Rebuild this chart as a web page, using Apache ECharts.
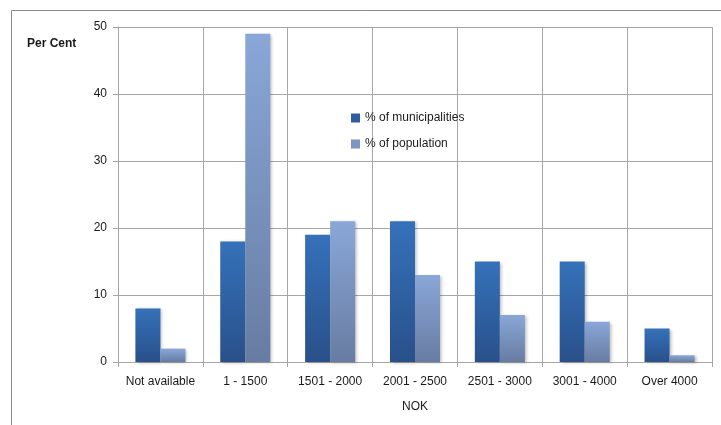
<!DOCTYPE html>
<html>
<head>
<meta charset="utf-8">
<script src="https://cdn.jsdelivr.net/npm/echarts@6/dist/echarts.min.js"></script>
<style>
  html, body { margin: 0; padding: 0; background: #fff; }
  #chart { width: 721px; height: 425px; }
</style>
</head>
<body>
<div id="chart"></div>
<script>
// Income bands (NOK) and shares in each band
const categories = ['Not available', '1 - 1500', '1501 - 2000', '2001 - 2500', '2501 - 3000', '3001 - 4000', 'Over 4000'];
const municipalities = [8, 18, 19, 21, 15, 15, 5];
const population = [2, 49, 21, 13, 7, 6, 1];
const yTicks = { min: 0, max: 50, interval: 10 };

const FONT = '"Liberation Sans Narrow", "Liberation Sans", Arial, sans-serif';
const grid = '#a6a6a6';
const ink = '#1a1a1a';

function grad(top, bottom) {
  return new echarts.graphic.LinearGradient(0, 0, 0, 1, [
    { offset: 0, color: top },
    { offset: 1, color: bottom }
  ]);
}

const chart = echarts.init(document.getElementById('chart'), null, { renderer: 'canvas' });
chart.setOption({
  animation: false,
  backgroundColor: '#fff',
  graphic: [
    {
      type: 'rect',
      shape: { x: 11.5, y: 10.5, width: 730, height: 430 },
      style: { fill: 'none', stroke: '#8c8c8c', lineWidth: 1 },
      silent: true
    },
    {
      type: 'text',
      left: 27, top: 38,
      style: { text: 'Per Cent', font: 'bold 12px ' + FONT, fill: ink }
    }
  ],
  grid: { left: 118, right: 9, top: 27, bottom: 63, containLabel: false },
  legend: {
    orient: 'vertical',
    left: 351, top: 112,
    padding: 0,
    itemWidth: 9, itemHeight: 9, itemGap: 14,
    icon: 'rect',
    textStyle: { fontFamily: FONT, fontSize: 12, color: ink },
    data: [
      { name: '% of municipalities', itemStyle: { color: '#2f5e9e' } },
      { name: '% of population', itemStyle: { color: '#7b95c4' } }
    ]
  },
  xAxis: {
    type: 'category',
    data: categories,
    name: 'NOK',
    nameLocation: 'middle',
    nameGap: 39,
    nameTextStyle: { fontFamily: FONT, fontSize: 12, color: ink },
    axisLine: { lineStyle: { color: grid, width: 1 } },
    axisTick: { show: true, interval: 0, length: 5, lineStyle: { color: grid } },
    axisLabel: { interval: 0, fontFamily: FONT, fontSize: 12, color: ink, margin: 14 },
    splitLine: { show: true, interval: 0, lineStyle: { color: grid, width: 1 } }
  },
  yAxis: {
    type: 'value',
    min: yTicks.min, max: yTicks.max, interval: yTicks.interval,
    axisLine: { show: true, lineStyle: { color: grid } },
    axisTick: { show: true, length: 5, lineStyle: { color: grid } },
    axisLabel: { fontFamily: FONT, fontSize: 12, color: ink, margin: 11 },
    splitLine: { show: true, lineStyle: { color: grid, width: 1 } }
  },
  series: [
    {
      name: '% of municipalities',
      type: 'bar',
      data: municipalities,
      barGap: '0%',
      barCategoryGap: '41%',
      itemStyle: {
        color: grad('#3571ba', '#29508a'),
        shadowColor: 'rgba(0,0,0,0.25)', shadowBlur: 3, shadowOffsetX: 2, shadowOffsetY: 1
      }
    },
    {
      name: '% of population',
      type: 'bar',
      data: population,
      itemStyle: {
        color: grad('#89a7d8', '#687ca2'),
        shadowColor: 'rgba(0,0,0,0.25)', shadowBlur: 3, shadowOffsetX: 2, shadowOffsetY: 1
      }
    }
  ]
});
</script>
</body>
</html>
